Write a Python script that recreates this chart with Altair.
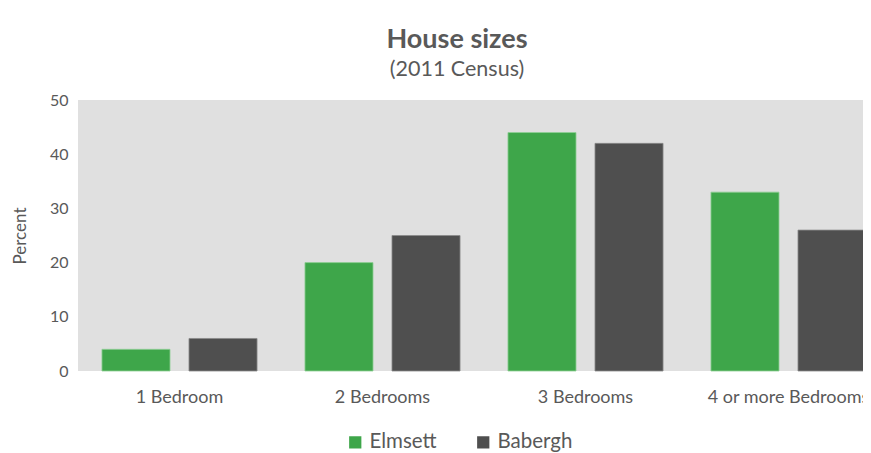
import altair as alt
import pandas as pd

categories = ["1 Bedroom", "2 Bedrooms", "3 Bedrooms", "4 or more Bedrooms"]
elmsett = [4, 20, 44, 33]
babergh = [6, 25, 42, 26]
series = ["Elmsett", "Babergh"]
colors = ["#3ea64a", "#4f4f4f"]

rows = []
for c, e, b in zip(categories, elmsett, babergh):
    rows.append({"Category": c, "Area": "Elmsett", "Percent": e})
    rows.append({"Category": c, "Area": "Babergh", "Percent": b})
df = pd.DataFrame(rows)

FONT = "Lato"
GREY = "#595959"

chart = alt.Chart(df).mark_bar(strokeWidth=0.8).encode(
    x=alt.X("Category:N", sort=categories, title=None,
            scale=alt.Scale(paddingInner=0.236, paddingOuter=0.118),
            axis=alt.Axis(labelAngle=0, labelFont=FONT, labelFontSize=18,
                          labelColor=GREY, ticks=False, domain=False,
                          labelPadding=17, labelOverlap=False)),
    xOffset=alt.XOffset("Area:N", sort=series,
                        scale=alt.Scale(paddingInner=0.218, paddingOuter=0)),
    y=alt.Y("Percent:Q", title="Percent",
            scale=alt.Scale(domain=[0, 50]),
            axis=alt.Axis(values=[0, 10, 20, 30, 40, 50], grid=False,
                          ticks=False, domain=False, labelFont=FONT,
                          labelFontSize=16, labelColor=GREY, labelPadding=10,
                          titleFont=FONT, titleFontSize=17, titleColor=GREY,
                          titleFontWeight="normal", titlePadding=20)),
    color=alt.Color("Area:N", sort=series,
                    scale=alt.Scale(domain=series, range=colors),
                    legend=alt.Legend(title=None, orient="none",
                                      direction="horizontal",
                                      legendX=267, legendY=332,
                                      symbolType="square", symbolSize=150,
                                      symbolStrokeWidth=0,
                                      labelFont=FONT, labelFontSize=20.5,
                                      labelColor=GREY, columnPadding=36,
                                      labelOffset=4)),
    stroke=alt.Stroke("Area:N", sort=series,
                      scale=alt.Scale(domain=series, range=["#8fcf96", "#8a8a8a"]),
                      legend=None),
).properties(
    width=812,
    height=271,
    title=alt.TitleParams(text="House sizes", subtitle="(2011 Census)",
                          anchor="middle", dx=-27, font=FONT, fontSize=27,
                          fontWeight="bold", color=GREY, subtitleFont=FONT,
                          subtitleFontSize=21.5, subtitleColor=GREY,
                          subtitlePadding=5, offset=11),
    autosize=alt.AutoSizeParams(type="none"),
    padding={"left": 70, "top": 92, "right": -27, "bottom": 82},
    background="white",
).configure_view(fill="#e0e0e0", stroke=None)

chart.save("out.html", embed_options={"renderer": "svg", "actions": False})
